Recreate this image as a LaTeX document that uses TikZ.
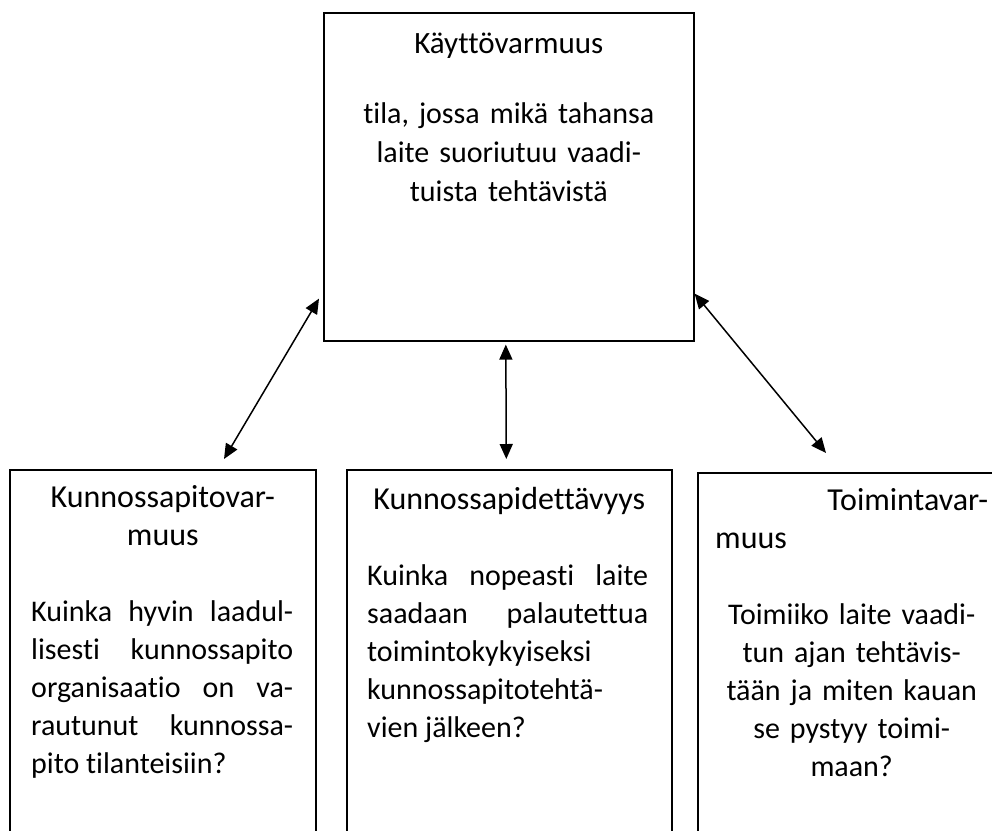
\documentclass[tikz,border=0pt]{standalone}
\usepackage{fontspec}
\setmainfont{Carlito}[Ligatures={NoCommon,NoContextual}]
\usetikzlibrary{arrows.meta,positioning}
\hyphenpenalty=10000

\tikzset{
  box/.style={draw, line width=1.6pt, rectangle, inner sep=0pt, anchor=north west},
  txt/.style={anchor=base, inner sep=0pt, font=\fontsize{30}{38}\selectfont},
  ttl/.style={txt, font=\fontsize{32}{38}\selectfont},
  link/.style={<->, >={Triangle[length=15pt,width=13pt]}, line width=1.5pt},
}

\begin{document}
\begin{tikzpicture}[x=1pt,y=-1pt]
  \clip (0,0) rectangle (992,830);

  % boxes
  \node[box, minimum width=370pt, minimum height=328pt] (kv) at (323,12) {};
  \node[box, minimum width=306pt, minimum height=450pt] (km) at (9,469) {};
  \node[box, minimum width=325pt, minimum height=450pt] (kp) at (346,469) {};
  \node[box, minimum width=400pt, minimum height=450pt] (tv) at (697,472) {};

  % texts
  \node[ttl, font=\fontsize{31}{38}\selectfont] (kvtitle) at ([yshift=-41pt]kv.north) {Käyttövarmuus};
  \node[txt, text width=330pt, align=center, font=\fontsize{30}{39}\selectfont]
    (kvtext) at ([yshift=-111pt]kv.north)
    {tila, jossa mikä tahansa\\laite suoriutuu vaadi-\\tuista tehtävistä};

  \node[ttl, text width=262pt, align=center] (kmtitle) at ([yshift=-38pt]km.north)
    {Kunnossapitovar-\\muus};
  \node[txt, anchor=base west, text width=262pt, align=justify]
    (kmtext) at ([xshift=22pt,yshift=-152pt]km.north west)
    {Kuinka hyvin laadul-\linebreak lisesti kunnossapito\linebreak
     organisaatio on va-\linebreak rautunut kunnossa-\linebreak pito tilanteisiin?};

  \node[ttl] (kptitle) at ([yshift=-40pt]kp.north) {Kunnossapidettävyys};
  \node[txt, anchor=base west, text width=281pt, align=justify]
    (kptext) at ([xshift=21pt,yshift=-116pt]kp.north west)
    {Kuinka nopeasti laite\linebreak saadaan palautettua\linebreak
     toimintokykyiseksi\\kunnossapitotehtä-\\vien jälkeen?};

  \node[ttl, anchor=base west, text width=273pt, align=left]
    (tvtitle) at ([xshift=18pt,yshift=-38pt]tv.north west)
    {\mbox{}\hfill Toimintavar-\\muus};
  \node[txt, anchor=base west, text width=273pt, align=center]
    (tvtext) at ([xshift=18pt,yshift=-152pt]tv.north west)
    {Toimiiko laite vaadi-\\tun ajan tehtävis-\\tään ja miten kauan\\se pystyy toimi-\\maan?};

  % connectors
  \draw[link] ([xshift=215pt,yshift=10pt]km.north west) -- ([xshift=-4pt,yshift=43pt]kv.south west);
  \draw[link] ([xshift=-3pt,yshift=-3pt]kv.south) -- ([xshift=-3pt,yshift=10pt]kp.north);
  \draw[link] ([yshift=48pt]kv.south east) -- ([xshift=129pt,yshift=19pt]tv.north west);
\end{tikzpicture}
\end{document}
